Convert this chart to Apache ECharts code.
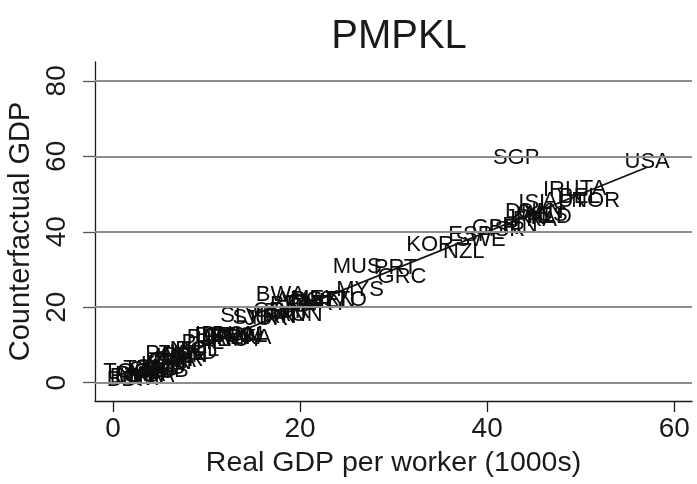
<!DOCTYPE html>
<html><head><meta charset="utf-8">
<script src="https://cdn.jsdelivr.net/npm/echarts@6/dist/echarts.min.js"></script>
<style>html,body{margin:0;padding:0;background:#fff}#c{width:697px;height:484px}</style>
</head><body><div id="c"></div>
<script>
const codes = ["BDI","TGO","ETH","MWI","RWA","NER","TZA","MLI","UGA","COG","CAF","GMB","ZMB","SEN","KEN","GHA","PAK","IND","CMR","BEN","ZWE","NIC","HND","BOL","PHL","PER","IDN","ECU","JAM","GTM","PRY","DOM","EGY","COL","LKA","SLV","SYR","JOR","CRI","IRN","PAN","TUR","TUN","BWA","BRA","ARG","ZAF","CHL","MEX","URY","VEN","TTO","MYS","MUS","PRT","GRC","KOR","NZL","ESP","SWE","GBR","ISR","FIN","SGP","JPN","DNK","ISL","FRA","CAN","AUS","NLD","IRL","AUT","BEL","ITA","NOR","USA"];
const realGDP = [1.3,1.5,2.0,2.6,2.9,3.1,3.3,3.6,4.0,4.3,4.6,5.0,5.6,6.0,5.4,6.3,5.7,6.6,7.0,7.7,7.4,8.1,8.6,9.0,9.6,10.3,10.8,11.2,11.7,12.3,12.8,13.3,13.6,14.1,14.7,13.6,15.2,16.4,17.0,17.6,18.3,18.7,20.0,17.9,19.2,19.9,20.5,21.0,21.6,22.6,23.5,24.8,26.4,26.1,30.2,30.9,33.9,37.5,38.2,39.3,40.9,42.1,43.5,43.1,44.1,44.4,45.1,45.1,45.7,46.2,46.7,47.8,48.3,49.9,51.0,51.6,57.1];
const counterfactual = [0.7,2.8,1.6,1.0,2.1,1.3,3.6,2.5,1.8,3.3,2.9,4.0,3.1,5.3,4.6,5.8,7.7,6.8,6.0,7.0,7.6,8.6,8.0,8.8,10.6,11.9,12.6,12.3,11.3,12.5,11.8,12.6,11.3,12.3,11.8,17.6,17.2,16.8,18.9,17.3,17.9,18.8,17.9,23.2,20.6,22.0,20.8,21.5,22.3,21.0,21.8,21.9,24.5,30.6,30.4,28.0,36.4,34.6,39.1,37.8,40.9,40.4,41.5,59.5,43.6,45.2,47.6,43.1,45.2,44.4,43.9,51.0,48.1,49.2,51.3,48.1,58.4];
const xTicks = [0,20,40,60];
const yTicks = [0,20,40,60,80];

const FONT = '"Liberation Sans", Arial, Helvetica, sans-serif';
const TXT = '#1a1a1a';
const xMin = Math.min(...realGDP), xMax = Math.max(...realGDP);

const chart = echarts.init(document.getElementById('c'), null, {renderer:'canvas'});
chart.setOption({
  animation: false,
  backgroundColor: '#fff',
  textStyle: {fontFamily: FONT},
  title: {text: 'PMPKL', left: 394, top: 12, textAlign: 'center',
    textStyle: {fontSize: 40, fontWeight: 'normal', color: TXT, fontFamily: FONT}},
  grid: {left: 95, right: 5, top: 62, bottom: 83, containLabel: false, outerBoundsMode: 'none'},
  xAxis: {
    type: 'value', min: -1.93, max: 61.9,
    axisLine: {onZero: false, lineStyle: {color: TXT, width: 1.3}},
    axisTick: {customValues: xTicks, length: 11, lineStyle: {color: TXT, width: 1.3}},
    axisLabel: {customValues: xTicks, fontSize: 28, color: TXT, margin: 14, fontFamily: FONT},
    splitLine: {show: false},
    name: 'Real GDP per worker (1000s)', nameLocation: 'middle', nameGap: 48,
    nameTextStyle: {fontSize: 28.5, color: TXT, fontFamily: FONT}
  },
  yAxis: {
    type: 'value', min: -4.85, max: 85,
    axisLine: {onZero: false, lineStyle: {color: TXT, width: 1.3}},
    axisTick: {customValues: yTicks, length: 12, lineStyle: {color: '#555', width: 1.3}},
    axisLabel: {customValues: yTicks, fontSize: 28, color: TXT, margin: 24, rotate: 90, fontFamily: FONT},
    splitLine: {show: false},
    name: 'Counterfactual GDP', nameLocation: 'middle', nameGap: 50,
    nameTextStyle: {fontSize: 29, color: TXT, fontFamily: FONT}
  },
  series: [
    {
      type: 'line', data: [], silent: true, z: 1,
      markLine: {
        silent: true, symbol: ['none','none'], animation: false,
        label: {show: false},
        lineStyle: {color: '#8e8e8e', width: 1.8, type: 'solid'},
        emphasis: {disabled: true},
        data: yTicks.map(v => ({yAxis: v}))
      }
    },
    {
      type: 'scatter', z: 3, symbolSize: 0,
      itemStyle: {opacity: 1},
      data: codes.map((c, i) => [realGDP[i], counterfactual[i], c]),
      label: {show: true, position: 'inside', formatter: p => p.data[2],
        fontSize: 22, color: '#0d0d0d', opacity: 1, fontFamily: FONT},
      emphasis: {disabled: true}
    },
    {
      type: 'line', z: 4, symbol: 'none', silent: true,
      data: [[xMin, xMin], [xMax, xMax]],
      lineStyle: {color: '#111', width: 1.8}
    }
  ]
});
</script></body></html>
